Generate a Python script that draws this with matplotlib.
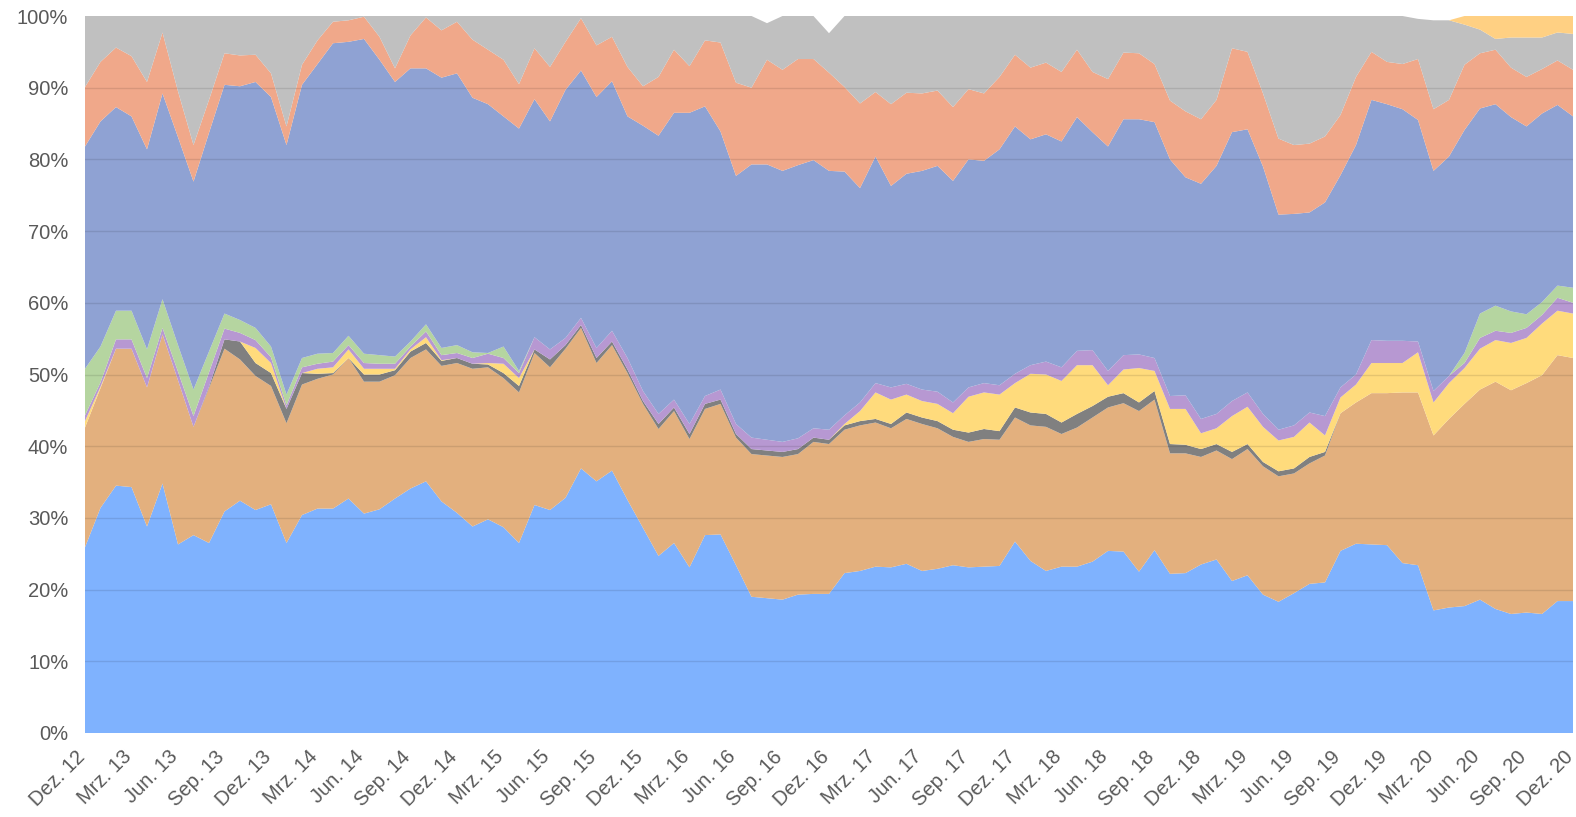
import matplotlib
matplotlib.use("Agg")
import matplotlib.pyplot as plt
import matplotlib.transforms as mtransforms
import numpy as np

tick_labels = ['Dez. 12', 'Mrz. 13', 'Jun. 13', 'Sep. 13', 'Dez. 13', 'Mrz. 14', 'Jun. 14',
               'Sep. 14', 'Dez. 14', 'Mrz. 15', 'Jun. 15', 'Sep. 15', 'Dez. 15', 'Mrz. 16',
               'Jun. 16', 'Sep. 16', 'Dez. 16', 'Mrz. 17', 'Jun. 17', 'Sep. 17', 'Dez. 17',
               'Mrz. 18', 'Jun. 18', 'Sep. 18', 'Dez. 18', 'Mrz. 19', 'Jun. 19', 'Sep. 19',
               'Dez. 19', 'Mrz. 20', 'Jun. 20', 'Sep. 20', 'Dez. 20']

blue = [25.9, 31.4, 34.5, 34.3, 28.8, 34.8, 26.3, 27.6, 26.5, 30.9,
        32.4, 31.1, 31.9, 26.5, 30.4, 31.3, 31.3, 32.7, 30.6, 31.2,
        32.7, 34.1, 35.1, 32.3, 30.7, 28.8, 29.8, 28.7, 26.5, 31.8,
        31.1, 32.8, 36.9, 35.1, 36.6, 32.5, 28.6, 24.7, 26.5, 23.1,
        27.6, 27.7, 23.4, 19.0, 18.8, 18.6, 19.3, 19.4, 19.4, 22.3,
        22.6, 23.2, 23.1, 23.6, 22.6, 22.9, 23.4, 23.1, 23.2, 23.3,
        26.7, 24.0, 22.6, 23.2, 23.2, 23.9, 25.4, 25.3, 22.5, 25.5,
        22.2, 22.3, 23.5, 24.2, 21.2, 22.0, 19.3, 18.3, 19.5, 20.8,
        21.0, 25.4, 26.4, 26.3, 26.2, 23.7, 23.4, 17.1, 17.5, 17.7,
        18.6, 17.3, 16.6, 16.8, 16.6, 18.4, 18.4]

tan = [16.7, 16.7, 19.1, 19.3, 19.4, 20.8, 22.9, 15.1, 21.6, 22.7,
       19.7, 18.7, 16.5, 16.7, 18.2, 18.1, 18.7, 19.6, 18.4, 17.8,
       17.2, 18.2, 18.4, 18.9, 20.9, 22.0, 21.2, 20.8, 21.0, 21.2,
       19.9, 20.8, 19.6, 16.5, 17.5, 17.7, 17.3, 17.7, 18.4, 17.9,
       17.6, 18.2, 17.8, 19.9, 19.9, 19.9, 19.6, 21.2, 20.9, 20.0,
       20.3, 20.1, 19.4, 20.2, 20.5, 19.6, 17.9, 17.5, 17.8, 17.6,
       17.3, 18.9, 20.1, 18.5, 19.4, 20.1, 20.0, 20.7, 22.4, 21.0,
       16.8, 16.7, 15.0, 15.2, 17.0, 17.6, 17.9, 17.5, 16.7, 16.8,
       17.7, 19.2, 19.7, 21.1, 21.2, 23.8, 24.1, 24.4, 26.3, 28.2,
       29.3, 31.7, 31.2, 32.0, 33.3, 34.3, 33.9]

dark_gray = [0, 0, 0, 0, 0, 0, 0, 0, 0.2, 1.3,
             2.5, 1.8, 1.8, 2.0, 1.6, 0.7, 0.2, 0, 1.0, 1.0,
             0.7, 0.9, 0.9, 0.7, 0.7, 0.7, 0.4, 0.7, 0.9, 0.5,
             1.1, 0.5, 0.4, 0.7, 0.5, 0.5, 0.4, 0.7, 0.5, 0.7,
             0.7, 0.6, 0.5, 0.7, 0.7, 0.7, 0.7, 0.6, 0.6, 0.6,
             0.6, 0.5, 0.6, 0.9, 0.9, 1.0, 1.0, 1.3, 1.4, 1.2,
             1.4, 1.8, 1.8, 1.6, 1.9, 1.6, 1.5, 1.4, 1.2, 1.2,
             1.3, 1.2, 1.1, 0.9, 1.0, 0.7, 0.6, 0.7, 0.7, 0.9,
             0.5, 0, 0, 0, 0, 0, 0, 0, 0, 0,
             0, 0, 0, 0, 0, 0, 0]

yellow = [0.9, 0.2, 0, 0, 0, 0, 0, 0, 0, 0,
          0, 2.1, 1.4, 0, 0, 0.7, 0.8, 1.2, 0.8, 0.8,
          0.2, 0.3, 0.8, 0.1, 0, 0, 0.2, 1.3, 1.1, 0,
          0, 0, 0, 0, 0, 0, 0, 0, 0, 0,
          0, 0, 0, 0, 0, 0, 0, 0, 0, 0.2,
          1.4, 3.7, 3.4, 2.5, 2.3, 2.4, 2.3, 5.0, 5.1, 5.1,
          3.4, 5.4, 5.5, 5.8, 6.8, 5.7, 1.6, 3.3, 4.8, 2.8,
          4.9, 5.0, 2.2, 2.2, 5.0, 5.2, 4.9, 4.3, 4.4, 4.8,
          2.3, 2.2, 2.5, 4.2, 4.2, 4.1, 5.6, 4.6, 5.0, 5.0,
          5.7, 5.8, 6.6, 6.3, 7.2, 6.2, 6.2]

purple = [0.8, 0.6, 1.3, 1.3, 1.3, 0.9, 1.2, 1.5, 2.0, 1.5,
          1.2, 1.1, 0.8, 0.5, 0.8, 0.7, 0.8, 0.6, 0.8, 0.7,
          0.7, 0.4, 0.8, 0.7, 0.7, 0.8, 1.3, 0.8, 0.7, 1.7,
          1.4, 1.0, 1.0, 1.4, 1.5, 1.6, 1.4, 1.4, 1.1, 1.4,
          1.1, 1.4, 1.4, 1.6, 1.5, 1.4, 1.5, 1.3, 1.4, 1.2,
          1.2, 1.3, 1.7, 1.5, 1.6, 1.7, 1.5, 1.3, 1.3, 1.3,
          1.3, 1.2, 1.8, 1.9, 2.0, 2.1, 2.0, 2.0, 1.9, 1.8,
          1.8, 1.9, 2.0, 2.0, 2.1, 2.0, 1.8, 1.5, 1.6, 1.4,
          2.7, 1.4, 1.4, 3.2, 3.1, 3.1, 1.5, 1.6, 1.0, 0.7,
          1.5, 1.3, 1.4, 1.4, 1.2, 1.8, 1.5]

green = [6.5, 5.0, 4.0, 4.0, 4.0, 4.0, 3.7, 3.7, 2.9, 2.1,
         1.8, 1.7, 1.5, 1.5, 1.3, 1.4, 1.2, 1.3, 1.3, 1.2,
         1.0, 0.7, 1.0, 1.0, 1.1, 0.8, 0.1, 1.6, 0.3, 0,
         0, 0, 0, 0, 0, 0, 0, 0, 0, 0,
         0, 0, 0, 0, 0, 0, 0, 0, 0, 0,
         0, 0, 0, 0, 0, 0, 0, 0, 0, 0,
         0, 0, 0, 0, 0, 0, 0, 0, 0, 0,
         0, 0, 0, 0, 0, 0, 0, 0, 0, 0,
         0, 0, 0, 0, 0, 0, 0, 0, 0, 1.4,
         3.4, 3.5, 3.0, 1.9, 1.8, 1.7, 2.1]

periwinkle = [31.0, 31.4, 28.4, 27.1, 27.9, 28.7, 29.0, 29.0, 30.5, 31.9,
              32.6, 34.3, 34.8, 34.8, 38.1, 40.4, 43.2, 41.0, 43.9, 41.2,
              38.3, 38.1, 35.7, 37.7, 37.9, 35.5, 34.7, 32.1, 33.8, 33.2,
              31.8, 34.6, 34.5, 35.0, 34.8, 33.7, 37.0, 38.8, 40.0, 43.4,
              40.4, 36.0, 34.6, 38.1, 38.4, 37.8, 38.1, 37.4, 36.1, 34.0,
              29.9, 31.6, 28.1, 29.3, 30.5, 31.5, 30.9, 31.8, 31.0, 32.9,
              34.5, 31.5, 31.7, 31.5, 32.6, 30.4, 31.3, 32.9, 32.8, 32.9,
              33.0, 30.4, 32.8, 34.6, 37.5, 36.7, 34.5, 30.0, 29.5, 27.9,
              29.8, 29.6, 32.0, 33.5, 33.0, 32.3, 30.9, 30.7, 30.6, 31.1,
              28.6, 28.1, 27.1, 26.2, 26.3, 25.2, 23.9]

salmon = [8.3, 8.3, 8.3, 8.4, 9.4, 8.5, 6.4, 5.1, 4.6, 4.4,
          4.3, 3.8, 3.3, 2.6, 2.8, 3.3, 3.0, 3.0, 3.1, 3.2,
          1.9, 4.6, 7.1, 6.6, 7.2, 8.1, 7.6, 7.9, 6.2, 7.1,
          7.6, 6.7, 7.3, 7.2, 6.2, 6.9, 5.5, 8.2, 8.8, 6.5,
          9.2, 12.4, 13.0, 10.7, 14.6, 14.1, 14.8, 14.1, 13.7, 11.8,
          11.8, 9.0, 11.4, 11.3, 10.8, 10.5, 10.3, 9.8, 9.4, 10.1,
          10.0, 10.0, 10.0, 9.7, 9.4, 8.4, 9.4, 9.3, 9.2, 8.1,
          8.2, 9.2, 9.0, 9.2, 11.7, 10.8, 10.2, 10.6, 9.6, 9.6,
          9.2, 8.4, 9.5, 6.7, 5.9, 6.3, 8.5, 8.6, 7.9, 9.1,
          7.7, 7.6, 6.9, 6.9, 6.2, 6.2, 6.5]

light_gray = [9.9, 6.4, 4.4, 5.6, 9.2, 2.3, 10.5, 18.0, 11.7, 5.2,
              5.5, 5.4, 8.0, 15.4, 6.8, 3.4, 0.8, 0.6, 0.1, 2.9,
              7.3, 2.7, 0.2, 2.0, 0.8, 3.3, 4.7, 6.1, 9.5, 4.5,
              7.1, 3.6, 0.3, 4.1, 2.9, 7.1, 9.8, 8.5, 4.7, 7.0,
              3.4, 3.7, 9.3, 10.0, 5.1, 7.5, 6.0, 6.0, 5.5, 9.9,
              12.2, 10.6, 12.3, 10.7, 10.8, 10.4, 12.7, 10.2, 10.8, 8.5,
              5.4, 7.2, 6.5, 7.8, 4.7, 7.8, 8.8, 5.1, 5.2, 6.7,
              11.8, 13.3, 14.4, 11.7, 4.5, 5.0, 10.8, 17.1, 18.0, 17.8,
              16.8, 13.8, 8.5, 5.0, 6.4, 6.7, 5.6, 12.4, 11.1, 5.6,
              3.3, 1.5, 4.2, 5.5, 4.4, 3.9, 5.0]

light_orange = [0, 0, 0, 0, 0, 0, 0, 0, 0, 0,
                0, 0, 0, 0, 0, 0, 0, 0, 0, 0,
                0, 0, 0, 0, 0, 0, 0, 0, 0, 0,
                0, 0, 0, 0, 0, 0, 0, 0, 0, 0,
                0, 0, 0, 0, 0, 0, 0, 0, 0, 0,
                0, 0, 0, 0, 0, 0, 0, 0, 0, 0,
                0, 0, 0, 0, 0, 0, 0, 0, 0, 0,
                0, 0, 0, 0, 0, 0, 0, 0, 0, 0,
                0, 0, 0, 0, 0, 0, 0, 0, 0, 1.2,
                1.9, 3.2, 3.0, 3.0, 3.0, 2.3, 2.5]

series = [blue, tan, dark_gray, yellow, purple, green, periwinkle, salmon, light_gray, light_orange]
colors = ['#7FB2FE', '#E3B07E', '#808080', '#FFDB7C', '#B798D2', '#B5D5A0',
          '#8FA2D3', '#F0A88A', '#C0C0C0', '#FFD083']

n = len(blue)
x = np.arange(n)

fig = plt.figure(figsize=(15.76, 8.17), dpi=100)
ax = fig.add_axes([85 / 1576, 1 - 733 / 817, (1573 - 85) / 1576, (733 - 16) / 817])

ax.stackplot(x, *series, colors=colors, linewidth=0, zorder=1)

ax.set_xlim(0, n - 1)
ax.set_ylim(0, 100)

yt = np.arange(0, 101, 10)
ax.set_yticks(yt)
ax.set_yticklabels([f"{v}%" for v in yt])
for v in yt[1:-1]:
    ax.axhline(v, color='#000000', alpha=0.1, lw=1.0, zorder=3)

xt = np.arange(0, n, 3)
ax.set_xticks(xt)
ax.set_xticklabels(tick_labels, rotation=45, ha='right', va='center',
                   rotation_mode='anchor')

for s in ax.spines.values():
    s.set_visible(False)
ax.tick_params(axis='both', length=0, labelsize=14.5, labelcolor='#595959')
ax.tick_params(axis='y', pad=12)
ax.tick_params(axis='x', pad=15)
shift = mtransforms.ScaledTranslation(-3 / 100, 0, fig.dpi_scale_trans)
for lab in ax.get_xticklabels():
    lab.set_transform(lab.get_transform() + shift)
for lab in ax.get_xticklabels() + ax.get_yticklabels():
    lab.set_fontfamily(['Liberation Sans', 'DejaVu Sans'])

fig.savefig('out.png', dpi=100)
